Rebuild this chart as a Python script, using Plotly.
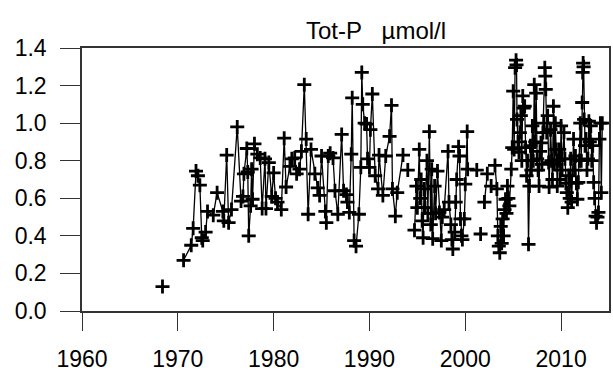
import plotly.graph_objects as go

# Sample dates (decimal years); None marks a break in the line
years = [
    1968.4, None,
    1970.6, 1971.4, 1971.6, 1971.9, 1972.1, 1972.3, 1972.5, 1972.6, 1972.9, 1973.1,
    1973.7, 1974.1, 1974.7, 1974.8, 1975.1, 1975.3, 1975.6, 1976.2, 1976.6, 1976.8,
    1976.9, 1977.2, 1977.3, 1977.4, 1977.6, 1977.7, 1977.8, 1978.0, 1978.3, 1978.6,
    1978.8, 1979.1, 1979.2, 1979.5, 1979.8, 1980.0, 1980.2, 1980.4, 1980.8, 1981.1,
    1981.3, 1981.7, 1981.9, 1982.2, 1982.4, 1982.7, 1982.9, 1983.2, 1983.4, 1983.6,
    1983.9, 1984.3, 1984.6, 1984.8, 1985.0, 1985.4, 1985.5, 1985.7, 1985.9, 1986.2,
    1986.4, 1986.7, 1987.1, 1987.3, 1987.6, 1987.7, 1987.9, 1988.1, 1988.2, 1988.4,
    1988.6, 1988.9, 1989.1, 1989.2, 1989.3, 1989.5, 1989.7, 1989.8, 1990.0, 1990.1,
    1990.3, 1990.6, 1990.9, 1991.0, 1991.4, 1991.7, 1992.1, 1992.3, 1992.4, 1992.7,
    1992.9, 1993.5, None,
    1994.0, None,
    1994.7, 1994.9, 1995.0, 1995.2, 1995.3, 1995.4, 1995.5, 1995.6, 1995.7, 1995.8,
    1996.0, 1996.1, 1996.25, 1996.4, 1996.5, 1996.6, 1996.8, 1996.9, 1997.1, 1997.3,
    1997.5, 1997.6, 1997.8, 1998.2, 1998.3, 1998.5, 1998.6, 1998.7, 1998.9, 1999.0,
    1999.1, 1999.3, 1999.4, 1999.5, 1999.6, 1999.7, 1999.9, 2000.0, 2000.2, 2000.25,
    None, 2001.2, None, 2001.6, None, 2002.0, 2002.3, None, 2002.7, None,
    2003.1, 2003.3, 2003.4, 2003.5, 2003.6, 2003.7, 2003.8, 2003.9, 2004.0, 2004.1,
    2004.2, 2004.3, 2004.4, 2004.5, 2004.6, 2004.8, 2004.9, 2005.0, 2005.1, 2005.2,
    2005.3, 2005.35, 2005.4, 2005.5, 2005.6, 2005.7, 2005.8, 2005.9, 2006.0, 2006.1,
    2006.2, 2006.3, 2006.4, 2006.5, 2006.6, 2006.7, 2006.8, 2006.9, 2007.0, 2007.1,
    2007.2, 2007.3, 2007.4, 2007.5, 2007.6, 2007.7, 2007.8, 2007.9, 2008.0, 2008.1,
    2008.2, 2008.3, 2008.35, 2008.4, 2008.5, 2008.6, 2008.7, 2008.75, 2008.9, 2009.0,
    2009.1, 2009.2, 2009.3, 2009.4, 2009.5, 2009.6, 2009.7, 2009.8, 2009.9, 2010.0,
    2010.1, 2010.3, 2010.4, 2010.5, 2010.6, 2010.7, 2010.8, 2010.9, 2011.0, 2011.1,
    2011.3, 2011.4, 2011.5, 2011.6, 2011.7, 2011.8, 2011.9, 2012.0, 2012.1, 2012.2,
    2012.25, 2012.3, 2012.35, 2012.4, 2012.5, 2012.6, 2012.7, 2012.8, 2012.9, 2013.0,
    2013.1, 2013.2, 2013.3, 2013.4, 2013.5, 2013.6, 2013.7, 2013.8, 2013.9, 2014.0,
    2014.1, 2014.2, 2014.3,
]

tot_p = [
    0.13, None,
    0.27, 0.35, 0.44, 0.745, 0.72, 0.67, 0.39, 0.375, 0.42, 0.53,
    0.51, 0.63, 0.53, 0.48, 0.83, 0.47, 0.54, 0.98, 0.585, 0.61,
    0.73, 0.865, 0.74, 0.40, 0.56, 0.755, 0.595, 0.89, 0.835, 0.815,
    0.545, 0.81, 0.545, 0.79, 0.61, 0.735, 0.60, 0.58, 0.54, 0.92,
    0.66, 0.77, 0.81, 0.815, 0.73, 0.755, 0.85, 1.205, 0.915, 0.515,
    0.86, 0.73, 0.655, 0.615, 0.825, 0.53, 0.47, 0.825, 0.84, 0.815,
    0.64, 0.515, 0.94, 0.64, 0.62, 0.58, 0.525, 0.835, 1.135, 0.375,
    0.345, 0.515, 0.765, 1.27, 1.10, 1.00, 0.995, 0.81, 0.765, 0.965,
    1.155, 0.72, 0.65, 0.83, 0.615, 0.825, 0.93, 1.095, 0.65, 0.505,
    0.63, 0.83, None,
    0.75, None,
    0.43, 0.665, 0.55, 0.86, 0.60, 0.70, 0.48, 0.39, 0.65, 0.55,
    0.80, 0.52, 0.955, 0.46, 0.755, 0.385, 0.665, 0.52, 0.745, 0.525,
    0.375, 0.50, 0.54, 0.85, 0.58, 0.46, 0.38, 0.33, 0.42, 0.58,
    0.70, 0.875, 0.825, 0.49, 0.40, 0.38, 0.49, 0.675, 0.955, 0.755,
    None, 0.75, None, 0.41, None, 0.58, 0.73, None, 0.665, None,
    0.775, 0.65, 0.40, 0.345, 0.31, 0.45, 0.36, 0.49, 0.40, 0.54,
    0.595, 0.52, 0.665, 0.60, 0.56, 0.755, 0.87, 1.17, 0.86, 1.295,
    1.335, 1.31, 1.02, 0.90, 0.845, 0.95, 1.04, 0.80, 1.145, 1.08,
    1.09, 0.87, 0.72, 0.80, 0.355, 0.665, 0.88, 0.75, 0.985, 0.80,
    1.205, 0.90, 1.16, 0.81, 0.75, 0.665, 0.85, 0.895, 0.78, 0.95,
    1.00, 1.295, 1.25, 1.18, 0.95, 1.04, 0.79, 0.66, 0.965, 0.80,
    0.70, 1.09, 0.78, 1.00, 0.86, 0.665, 0.80, 0.86, 0.70, 0.985,
    0.75, 0.95, 0.81, 0.68, 0.63, 0.55, 0.72, 0.60, 0.81, 0.58,
    0.915, 0.75, 0.825, 0.68, 0.595, 0.685, 0.80, 1.00, 0.80, 1.11,
    1.27, 1.32, 1.30, 1.02, 0.88, 0.915, 0.75, 0.81, 1.01, 0.90,
    0.985, 0.80, 0.88, 0.685, 0.60, 0.505, 0.47, 0.50, 0.525, 0.915,
    1.00, 0.63, 1.00,
]

x_ticks = [1960, 1970, 1980, 1990, 2000, 2010]
y_ticks = [0.0, 0.2, 0.4, 0.6, 0.8, 1.0, 1.2, 1.4]
title_text = "Tot-P   \u00b5mol/l"

fig = go.Figure()
fig.add_trace(go.Scatter(
    x=years, y=tot_p, mode="lines+markers", connectgaps=False,
    line=dict(color="black", width=1.3),
    marker=dict(symbol="cross-thin", size=10, color="black",
                line=dict(color="black", width=2.8)),
    showlegend=False, hoverinfo="skip",
))

font = dict(family="Liberation Sans, Arial, sans-serif", size=23, color="black")

fig.update_layout(
    width=613, height=374,
    margin=dict(l=82, r=2, t=48, b=62),
    paper_bgcolor="white", plot_bgcolor="white",
    font=font,
    annotations=[dict(
        text=title_text, xref="paper", yref="paper", x=0.557, y=1.0,
        xanchor="center", yanchor="bottom", yshift=2, showarrow=False,
        font=dict(family="Liberation Sans, Arial, sans-serif", size=24, color="black"),
    )],
)
fig.update_xaxes(
    range=[1960, 2015], tickvals=x_ticks, ticktext=[str(v) for v in x_ticks],
    showline=True, linecolor="#333", linewidth=1.5, mirror=True,
    ticks="outside", ticklen=18, tickwidth=1.3, tickcolor="#333",
    showgrid=False, zeroline=False, ticklabelstandoff=9,
)
fig.update_yaxes(
    range=[0, 1.4], tickvals=y_ticks, ticktext=[f"{v:.1f}" for v in y_ticks],
    showline=True, linecolor="#333", linewidth=1.5, mirror=True,
    ticks="outside", ticklen=20, tickwidth=1.3, tickcolor="#333",
    showgrid=False, zeroline=False, ticklabelstandoff=9,
)

fig.write_html(
    "out.html",
    config={"displayModeBar": False},
    post_script="document.body.style.margin='0';document.body.style.overflow='hidden';",
)
